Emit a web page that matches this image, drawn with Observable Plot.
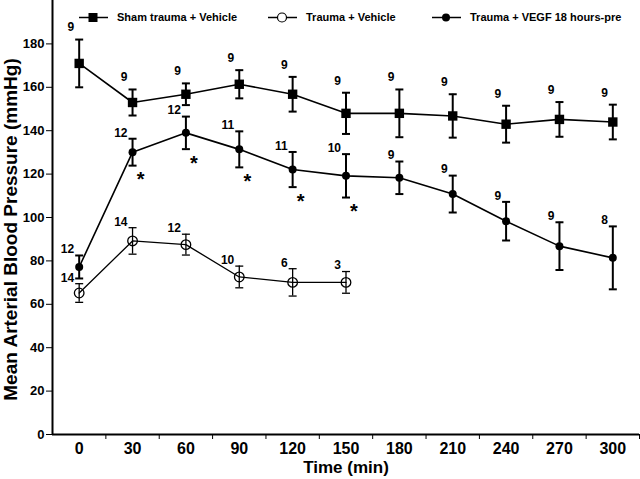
<!DOCTYPE html>
<html>
<head>
<meta charset="utf-8">
<script src="https://cdn.jsdelivr.net/npm/d3@7"></script>
<script src="https://cdn.jsdelivr.net/npm/@observablehq/plot@0.6"></script>
<style>
  body { margin: 0; background: #fff; }
  #wrap { position: relative; width: 640px; height: 479px; font-family: "Liberation Sans", Arial, sans-serif; }
  .leg { position: absolute; top: 10px; height: 14px; display: flex; align-items: center; font: bold 11px "Liberation Sans", Arial, sans-serif; white-space: nowrap; }
  .leg svg { margin-right: 9px; overflow: visible; }
</style>
</head>
<body>
<div id="wrap"><div id="chart"></div><div id="legend"></div></div>
<script>
// ---- data ----
const times = [0, 30, 60, 90, 120, 150, 180, 210, 240, 270, 300];
const shamMean = [171, 153, 156.8, 161.4, 156.8, 148, 148, 146.8, 143, 145.2, 144];
const shamSem  = [11, 6, 5, 6.5, 8, 9.5, 11, 10, 8.5, 8, 8];
const shamN    = [9, 9, 9, 9, 9, 9, 9, 9, 9, 9, 9];

const vegfMean = [77.2, 130.1, 139, 131.4, 122.1, 119.2, 118.3, 110.8, 98.3, 86.8, 81.4];
const vegfSem  = [5.3, 6.2, 7.5, 8.3, 8.1, 10, 7.5, 8.5, 8.9, 11, 14.5];
const vegfN    = [12, 12, 12, 11, 11, 10, 9, 9, 9, 9, 8];
const vegfSignificant = [false, true, true, true, true, true, false, false, false, false, false];

const traumaTimes = [0, 30, 60, 90, 120, 150];
const traumaMean  = [65.2, 89.2, 87.5, 72.6, 70.1, 70.1];
const traumaSem   = [4.3, 6.1, 4.8, 5, 6.3, 5];
const traumaN     = [14, 14, 12, 10, 6, 3];

const seriesNames = ["Sham trauma + Vehicle", "Trauma + Vehicle", "Trauma + VEGF 18 hours-pre"];
const xDomain = [-15, 315];
const yDomain = [0, 200];
const xLabelTicks = [0, 30, 60, 90, 120, 150, 180, 210, 240, 270, 300];
const xMinorTicks = [15, 45, 75, 105, 135, 165, 195, 225, 255, 285, 315];
const yTicks = [0, 20, 40, 60, 80, 100, 120, 140, 160, 180];
const xTitle = "Time (min)";
const yTitle = "Mean Arterial Blood Pressure (mmHg)";

// ---- build tables ----
const sham = times.map((t, i) => ({t, mean: shamMean[i], sem: shamSem[i], n: shamN[i]}));
const vegf = times.map((t, i) => ({t, mean: vegfMean[i], sem: vegfSem[i], n: vegfN[i], sig: vegfSignificant[i]}));
const trauma = traumaTimes.map((t, i) => ({t, mean: traumaMean[i], sem: traumaSem[i], n: traumaN[i]}));

const capSymbol = {
  draw(ctx, size) { const w = Math.sqrt(size / Math.PI); ctx.moveTo(-w, 0); ctx.lineTo(w, 0); }
};

function errorMarks(data, sw) {
  return [
    Plot.ruleX(data, {x: "t", y1: d => d.mean - d.sem, y2: d => d.mean + d.sem, stroke: "black", strokeWidth: sw}),
    Plot.dot(data, {x: "t", y: d => d.mean + d.sem, symbol: capSymbol, r: 4, stroke: "black", strokeWidth: sw, fill: "none"}),
    Plot.dot(data, {x: "t", y: d => d.mean - d.sem, symbol: capSymbol, r: 4, stroke: "black", strokeWidth: sw, fill: "none"})
  ];
}
function nLabels(data, dy) {
  return Plot.text(data, {x: "t", y: d => d.mean + d.sem, text: d => String(d.n), dx: -5, dy, textAnchor: "end", fontSize: 12, fontWeight: "bold", fill: "black"});
}

const chart = Plot.plot({
  width: 640,
  height: 479,
  marginLeft: 52,
  marginRight: 1,
  marginTop: 0,
  marginBottom: 45,
  style: {fontFamily: "'Liberation Sans', Arial, sans-serif", color: "black", background: "white"},
  x: {domain: xDomain, axis: null},
  y: {domain: yDomain, axis: null},
  marks: [
    Plot.axisY({ticks: yTicks, tickSize: 6, tickPadding: 2, fontSize: 13, fontWeight: "bold", label: null}),
    Plot.axisX({ticks: xMinorTicks, tickSize: 5, tickFormat: () => "", label: null}),
    Plot.axisX({ticks: xLabelTicks, tickSize: 0, tickPadding: 8, fontSize: 16, fontWeight: "bold", label: null}),
    Plot.ruleX([xDomain[0]], {strokeWidth: 2}),
    Plot.ruleY([yDomain[0]], {strokeWidth: 2}),
    ...errorMarks(sham, 2),
    ...errorMarks(vegf, 2),
    ...errorMarks(trauma, 1.3),
    Plot.line(sham, {x: "t", y: "mean", stroke: "black", strokeWidth: 1.6}),
    Plot.line(vegf, {x: "t", y: "mean", stroke: "black", strokeWidth: 1.6}),
    Plot.line(trauma, {x: "t", y: "mean", stroke: "black", strokeWidth: 1.3}),
    Plot.dot(sham, {x: "t", y: "mean", symbol: "square", r: 5.3, fill: "black"}),
    Plot.dot(vegf, {x: "t", y: "mean", r: 4, fill: "black"}),
    Plot.dot(trauma, {x: "t", y: "mean", r: 4.8, fill: "none", stroke: "black", strokeWidth: 1.3}),
    nLabels(sham, -12),
    nLabels(vegf, -6),
    nLabels(trauma, -6),
    Plot.text(vegf.filter(d => d.sig), {x: "t", y: d => d.mean - d.sem, text: () => "*", dx: 8, dy: 14, fontSize: 20, fontWeight: "bold", fill: "black"}),
    Plot.text([yTitle], {text: d => d, frameAnchor: "left", textAnchor: "middle", lineAnchor: "middle", rotate: -90, dx: -42, dy: 12, fontSize: 19, fontWeight: "bold", fill: "black"}),
    Plot.text([xTitle], {text: d => d, frameAnchor: "bottom", textAnchor: "middle", lineAnchor: "middle", dy: 33, fontSize: 17, fontWeight: "bold", fill: "black"})
  ]
});
document.getElementById("chart").appendChild(chart);

// ---- legend (HTML overlay) ----
const legendLeft = [79, 268, 432];
const markerSvg = [
  '<rect x="9.5" y="2" width="9" height="9" fill="black"/>',
  '<circle cx="14" cy="6.5" r="4.5" fill="white" stroke="black" stroke-width="1.2"/>',
  '<circle cx="14" cy="6.5" r="4" fill="black"/>'
];
const legend = document.getElementById("legend");
seriesNames.forEach((name, i) => {
  const div = document.createElement("div");
  div.className = "leg";
  div.style.left = legendLeft[i] + "px";
  div.innerHTML = `<svg width="29" height="13"><line x1="0" x2="29" y1="6.5" y2="6.5" stroke="black" stroke-width="1.5"/>${markerSvg[i]}</svg><span>${name}</span>`;
  legend.appendChild(div);
});
</script>
</body>
</html>
